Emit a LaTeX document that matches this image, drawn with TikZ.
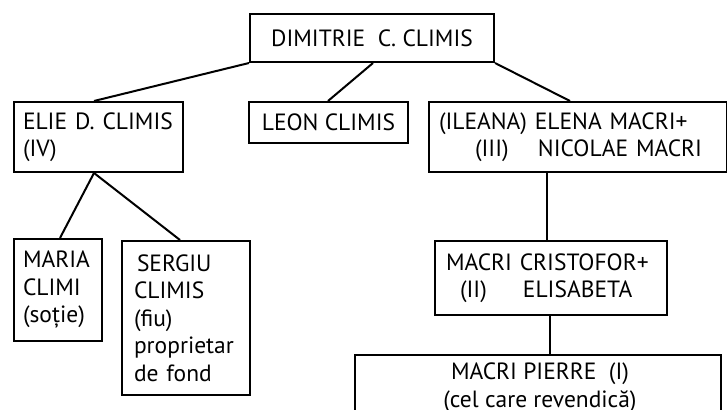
\documentclass[tikz,border=0pt]{standalone}
\usepackage{fontspec}
\setmainfont{PT Sans}
\begin{document}
\begin{tikzpicture}[x=1pt,y=-1pt,
  box/.style={draw=black, line width=2pt, anchor=north west, inner sep=0pt,
    font=\fontsize{23.5}{27.5}\selectfont},
  link/.style={line width=2pt}]
\useasboundingbox (0,0) rectangle (727,409);
\node[box, minimum width=244pt, minimum height=48pt, align=center] (dim) at (249,13) {DIMITRIE\ \ C. CLIMIS};
\node[box, minimum width=169pt, minimum height=70pt, text width=151pt, align=left] (elie) at (13,101) {ELIE D. CLIMIS\\(IV)};
\node[box, minimum width=159pt, minimum height=41pt, align=center] (leon) at (248,101) {LEON CLIMIS};
\node[box, minimum width=298pt, minimum height=70pt, text width=278pt, align=left] (elena) at (428,101) {(ILEANA) ELENA MACRI+\\\hspace*{36pt}\makebox[63pt][l]{(III)}NICOLAE MACRI};
\node[box, minimum width=88pt, minimum height=102pt, text width=70pt, align=left] (maria) at (13,238) {MARIA\\CLIMI\\(soție)};
\node[box, minimum width=128pt, minimum height=154pt, text width=104pt, align=left] (sergiu) at (121,240) {\hspace*{3pt}SERGIU\\CLIMIS\\(fiu)\\proprietar\\de fond};
\node[box, minimum width=232pt, minimum height=74pt, text width=210pt, align=left] (cris) at (434,240) {MACRI CRISTOFOR+\\\hspace*{14pt}\makebox[63pt][l]{(II)}ELISABETA};
\node[box, minimum width=366pt, minimum height=100pt] (pierre) at (354,354) {};
\node[anchor=north, inner sep=0pt, align=center, font=\fontsize{23.5}{27.5}\selectfont] (pierretext) at (540,363) {MACRI PIERRE\ \ (I)\\(cel care revendică)};
\draw[link] (dim.south west) -- ([xshift=81pt]elie.north west);
\draw[link] ([xshift=124pt]dim.south west) -- ([xshift=80pt]leon.north west);
\draw[link] (dim.south east) -- ([xshift=142pt]elena.north west);
\draw[link] ([xshift=81pt]elie.south west) -- ([xshift=47pt]maria.north west);
\draw[link] ([xshift=81pt]elie.south west) -- ([xshift=59pt]sergiu.north west);
\draw[link] ([xshift=119pt]elena.south west) -- ([xshift=113pt]cris.north west);
\draw[link] ([xshift=116pt]cris.south west) -- ([xshift=196pt]pierre.north west);
\end{tikzpicture}
\end{document}
